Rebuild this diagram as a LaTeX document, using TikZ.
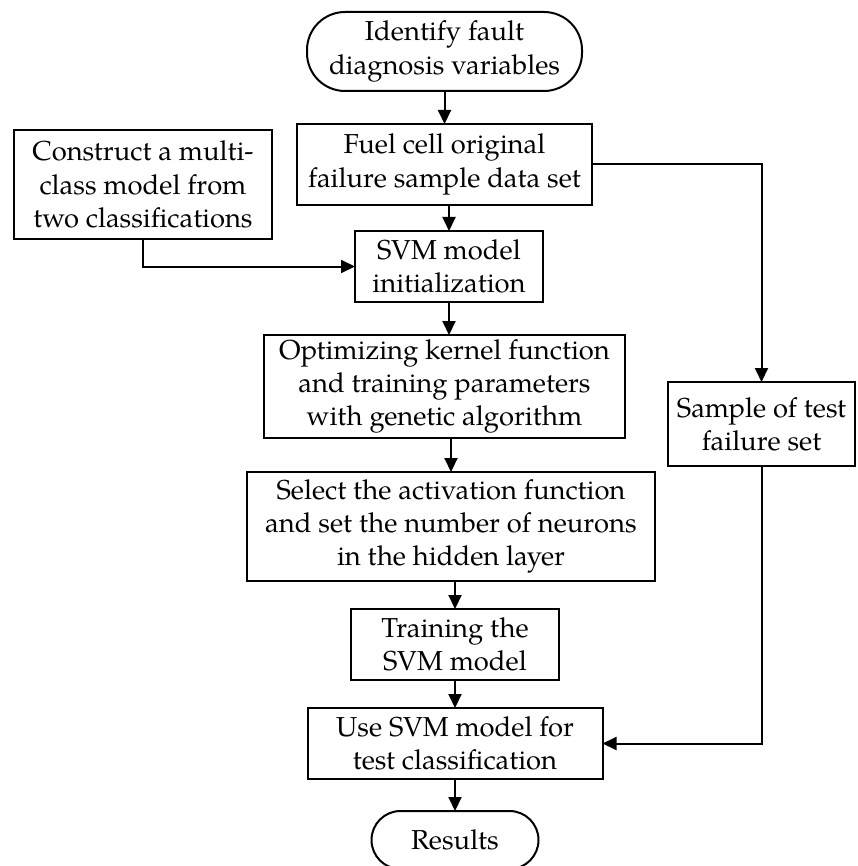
\documentclass[tikz,border=0pt]{standalone}
\usepackage{fontspec}
\setmainfont{TeX Gyre Pagella}
\usetikzlibrary{positioning, arrows.meta}

\begin{document}
\begin{tikzpicture}[node distance=16pt, auto, line width=1pt]
    % Define styles
    \tikzstyle{block} = [rectangle, draw, align=center, inner sep=0pt, outer sep=0pt,
        font=\fontsize{13.7}{16.6}\selectfont]
    \tikzstyle{terminal} = [block, rounded corners=19pt]
    \tikzstyle{line} = [draw, -{Triangle[length=7pt, width=6.5pt]}]

    \useasboundingbox (0,0) rectangle (428.5pt,-433pt);

    % Place nodes
    \node [terminal, minimum width=137.5pt, minimum height=39.5pt] (identify) at (222.25pt,-25.75pt) {Identify fault\\diagnosis variables};
    \node [block, minimum width=147.5pt, minimum height=40.5pt, below=16.5pt of identify] (fuel_data) {Fuel cell original\\failure sample data set};
    \node [block, minimum width=94pt, minimum height=35.5pt, below=13pt of fuel_data, xshift=2.25pt] (svm_init) {SVM model\\initialization};
    \node [block, minimum width=180.5pt, minimum height=51.5pt, below=16.5pt of svm_init, xshift=-2.25pt] (optimize) {Optimizing kernel function\\and training parameters\\with genetic algorithm};
    \node [block, minimum width=204pt, minimum height=54.5pt, below=17pt of optimize, xshift=3.25pt] (select_act) {Select the activation function\\and set the number of neurons\\in the hidden layer};
    \node [block, minimum width=104pt, minimum height=35.5pt, below=14pt of select_act, xshift=2pt] (training) {Training the\\SVM model};
    \node [block, minimum width=147.5pt, minimum height=35.5pt, below=14pt of training] (use_svm) {Use SVM model for\\test classification};
    \node [terminal, rounded corners=14.5pt, minimum width=83.5pt, minimum height=29pt, below=16pt of use_svm] (results) {Results};

    % Side boxes
    \node [block, minimum width=129pt, minimum height=54.5pt, left=12.5pt of fuel_data, yshift=-10pt] (construct) {Construct a multi-\\class model from\\two classifications};
    \node [block, minimum width=93.5pt, minimum height=42pt, right=21.5pt of optimize, yshift=-18.75pt] (sample_test) {Sample of test\\failure set};

    % Draw edges
    \path [line] (identify.south) -- (identify.south |- fuel_data.north);
    \path [line] (fuel_data.south -| svm_init.north) -- (svm_init.north);
    \path [line] (svm_init.south) -- (svm_init.south |- optimize.north);
    \path [line] (optimize.south -| select_act.north) -- (select_act.north);
    \path [line] (select_act.south -| training.north) -- (training.north);
    \path [line] (training.south -| use_svm.north) -- (use_svm.north);
    \path [line] (use_svm.south) -- (results.north);

    \path [line] (construct.south) |- (svm_init.west);
    \path [line] (fuel_data.east) -| (sample_test.north);
    \path [line] (sample_test.south) |- (use_svm.east);
\end{tikzpicture}
\end{document}
